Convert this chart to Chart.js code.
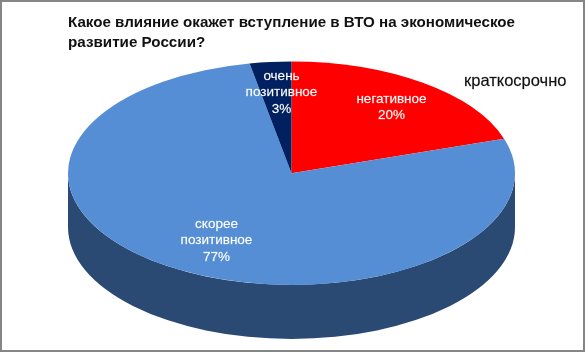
<!DOCTYPE html>
<html lang="ru">
<head>
<meta charset="utf-8">
<script src="https://cdn.jsdelivr.net/npm/chart.js@4"></script>
<style>
html,body{margin:0;padding:0;background:#fff;overflow:hidden}
#wrap{position:relative;width:585px;height:352px}
canvas{display:block}
#frame{position:absolute;left:0;top:0;width:581px;height:348px;border:2px solid #858585;pointer-events:none}
</style>
</head>
<body>
<div id="wrap"><canvas id="c" width="585" height="352"></canvas><div id="frame"></div></div>
<script>
const categories = ['негативное', 'скорее позитивное', 'очень позитивное'];
const values = [20, 77, 3];
const labelLines = [['негативное', '20%'], ['скорее', 'позитивное', '77%'], ['очень', 'позитивное', '3%']];
const topColors = ['#ff0000', '#558ed5', '#002060'];
const sideColors = ['#b00000', '#2b4a73', '#00163f'];
const titleLines = ['Какое влияние окажет вступление в ВТО на экономическое', 'развитие России?'];
const noteText = 'краткосрочно';

// drawing settings (not data)
const squash = 0.5, depth = 54, pieRadius = 223.5;
const labelOffsets = [[100, -66], [-75, 67.5], [-10, -80.5]]; // from the pie centre
const labelLineHeight = 16.5;

const pie3d = {
  id: 'pie3d',
  beforeDatasetDraw(chart) {
    const ctx = chart.ctx, arcs = chart.getDatasetMeta(0).data;
    const cy = arcs[0].y;
    arcs.forEach((a, i) => {
      // only the front half of the rim is visible
      const lo = Math.max(a.startAngle, 0), hi = Math.min(a.endAngle, Math.PI);
      if (hi <= lo) return;
      const rx = a.outerRadius, ry = a.outerRadius * squash;
      ctx.fillStyle = sideColors[i];
      ctx.beginPath();
      ctx.ellipse(a.x, cy + depth, rx, ry, 0, lo, hi);
      ctx.ellipse(a.x, cy, rx, ry, 0, hi, lo, true);
      ctx.closePath();
      ctx.fill();
    });
    ctx.save();
    ctx.translate(0, cy);
    ctx.scale(1, squash);
    ctx.translate(0, -cy);
  },
  afterDatasetDraw(chart) {
    const ctx = chart.ctx;
    ctx.restore();
    const a0 = chart.getDatasetMeta(0).data[0];
    ctx.save();
    ctx.textAlign = 'center';
    ctx.textBaseline = 'middle';
    ctx.fillStyle = '#ffffff';
    ctx.strokeStyle = 'rgba(255,255,255,0.5)';
    ctx.lineWidth = 0.3;
    ctx.font = '13.5px "Liberation Sans", Arial, sans-serif';
    labelLines.forEach((lines, i) => {
      const x = a0.x + labelOffsets[i][0];
      const yc = a0.y + labelOffsets[i][1];
      lines.forEach((t, j) => {
        const y = yc + (j - (lines.length - 1) / 2) * labelLineHeight;
        ctx.fillText(t, x, y);
        ctx.strokeText(t, x, y);
      });
    });
    ctx.fillStyle = '#111111';
    ctx.strokeStyle = 'rgba(17,17,17,0.6)';
    ctx.textAlign = 'left';
    ctx.font = '16.5px "Liberation Sans", Arial, sans-serif';
    ctx.fillText(noteText, 464, 81);
    ctx.strokeText(noteText, 464, 81);
    ctx.restore();
  }
};

new Chart(document.getElementById('c'), {
  type: 'pie',
  data: {
    labels: categories,
    datasets: [{ data: values, backgroundColor: topColors, borderWidth: 0, clip: false }]
  },
  options: {
    responsive: false,
    animation: false,
    radius: pieRadius,
    layout: { padding: { left: 68, right: 70, top: 0, bottom: 59 } },
    plugins: {
      legend: { display: false },
      tooltip: { enabled: false },
      title: {
        display: true,
        text: titleLines,
        align: 'start',
        color: '#111111',
        font: { family: '"Liberation Sans", Arial, sans-serif', size: 15.2, weight: 'bold', lineHeight: 1.36 },
        padding: { top: 12, bottom: 0 }
      }
    }
  },
  plugins: [pie3d]
});
</script>
</body>
</html>
